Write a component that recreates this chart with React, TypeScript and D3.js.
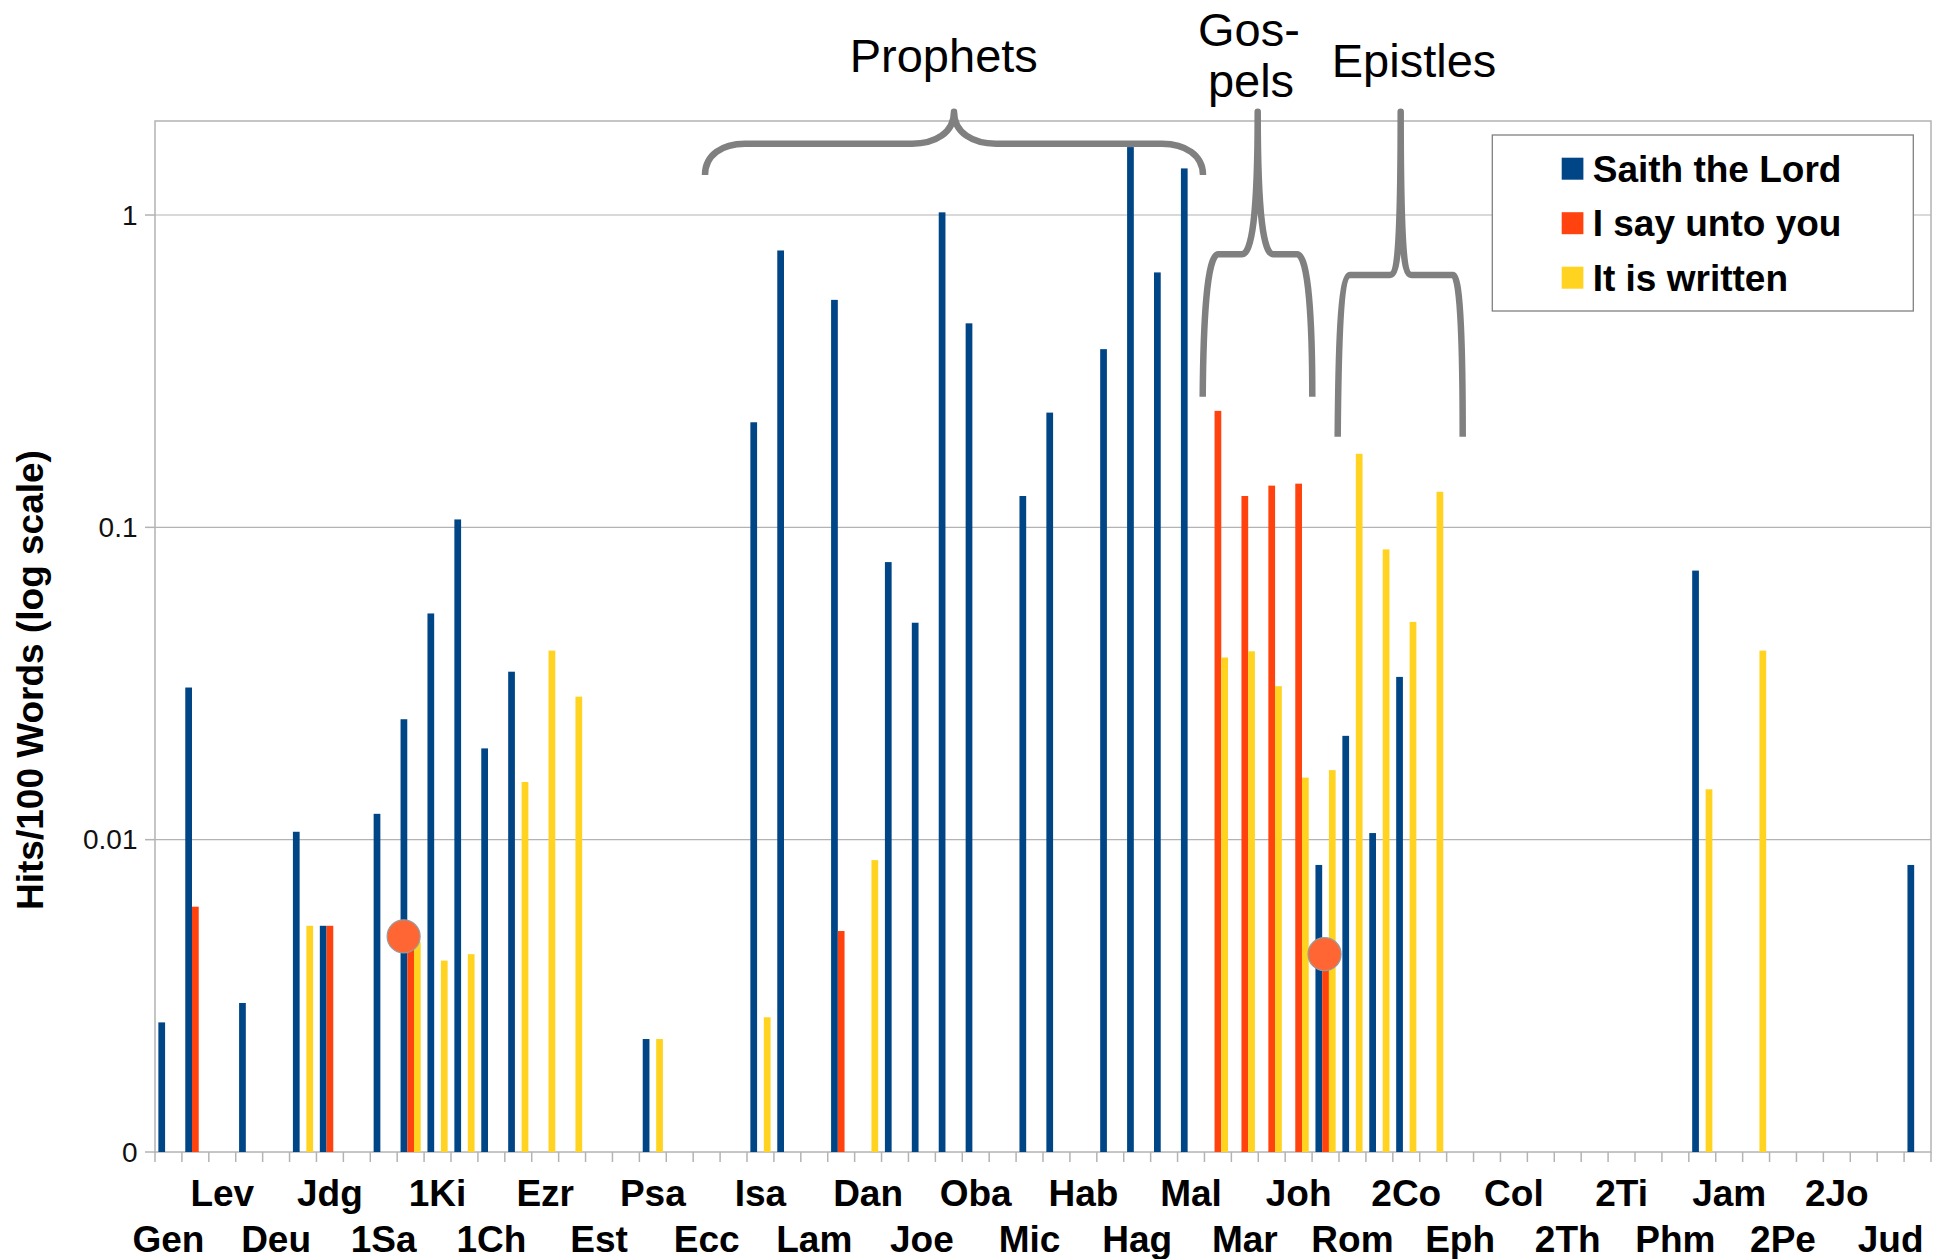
import React, { useRef, useEffect } from "react";
import * as d3 from "d3";

// books of the bible, in order (only every other one gets a label)
const books = [
  "Gen", "Exo", "Lev", "Num", "Deu", "Jos", "Jdg", "Rut", "1Sa", "2Sa", "1Ki",
  "2Ki", "1Ch", "2Ch", "Ezr", "Neh", "Est", "Job", "Psa", "Pro", "Ecc", "Son",
  "Isa", "Jer", "Lam", "Eze", "Dan", "Hos", "Joe", "Amo", "Oba", "Jon", "Mic",
  "Nah", "Hab", "Zep", "Hag", "Zec", "Mal", "Mat", "Mar", "Luk", "Joh", "Act",
  "Rom", "1Co", "2Co", "Gal", "Eph", "Phi", "Col", "1Th", "2Th", "1Ti", "2Ti",
  "Tit", "Phm", "Heb", "Jam", "1Pe", "2Pe", "1Jo", "2Jo", "3Jo", "Jud", "Rev",
];

const seriesNames = ["Saith the Lord", "I say unto you", "It is written"];
const seriesColors = ["#004586", "#ff420e", "#ffd320"];

// hits per 100 words; books with no hits are left out
const saithTheLord: [string, number][] = [
  ["Gen", 0.0026], ["Exo", 0.0307], ["Num", 0.003], ["Jos", 0.0106],
  ["Jdg", 0.0053], ["1Sa", 0.0121], ["2Sa", 0.0243], ["1Ki", 0.053],
  ["2Ki", 0.106], ["1Ch", 0.0196], ["2Ch", 0.0345], ["Psa", 0.0023],
  ["Isa", 0.217], ["Jer", 0.77], ["Eze", 0.535], ["Hos", 0.0774],
  ["Joe", 0.0495], ["Amo", 1.02], ["Oba", 0.45], ["Mic", 0.126],
  ["Nah", 0.233], ["Zep", 0.372], ["Hag", 1.65], ["Zec", 0.655],
  ["Mal", 1.41], ["Act", 0.0083], ["Rom", 0.0215], ["1Co", 0.0105],
  ["2Co", 0.0332], ["Heb", 0.0727], ["Rev", 0.0083],
];

const iSayUntoYou: [string, number][] = [
  ["Exo", 0.0061], ["Jdg", 0.0053], ["2Sa", 0.0049], ["Eze", 0.0051],
  ["Mat", 0.236], ["Mar", 0.126], ["Luk", 0.136], ["Joh", 0.138],
  ["Act", 0.0043],
];

const itIsWritten: [string, number][] = [
  ["Jos", 0.0053], ["2Sa", 0.0047], ["1Ki", 0.0041], ["2Ki", 0.0043],
  ["2Ch", 0.0153], ["Ezr", 0.0403], ["Neh", 0.0287], ["Psa", 0.0023],
  ["Isa", 0.0027], ["Dan", 0.0086], ["Mat", 0.0383], ["Mar", 0.0401],
  ["Luk", 0.031], ["Joh", 0.0158], ["Act", 0.0167], ["Rom", 0.172],
  ["1Co", 0.085], ["2Co", 0.0498], ["Gal", 0.13], ["Heb", 0.0145],
  ["1Pe", 0.0403],
];

const seriesData = [saithTheLord, iSayUntoYou, itIsWritten];

const yTicks = [1, 0.1, 0.01, 0.001];
const yTickLabels = ["1", "0.1", "0.01", "0"];

// the two highlighted "I say unto you" hits
const markers: [string, number][] = [["2Sa", 0.0049], ["Act", 0.0043]];
const markerNudge = [-7, -1];

const FONT = "'Liberation Sans', Arial, sans-serif";
const GRID = "#b3b3b3";
const BRACE = "#808080";

const left = 155, right = 1931, top = 121, bottom = 1152;

export default function App() {
  const ref = useRef<SVGSVGElement>(null);

  useEffect(() => {
    const svg = d3.select(ref.current);
    svg.selectAll("*").remove();

    const x = d3.scaleBand().domain(books).range([left, right]).padding(0);
    const x1 = d3.scaleBand().domain(seriesNames)
      .range([0, x.bandwidth()]).paddingInner(0).paddingOuter(0.5);
    const y = d3.scaleLog().domain([0.001, 2]).range([bottom, top]);

    svg.append("rect").attr("width", 1943).attr("height", 1259).attr("fill", "#fff");

    // grid + frame
    svg.append("g").selectAll("line")
      .data(yTicks.slice(0, -1))
      .join("line")
      .attr("x1", left).attr("x2", right)
      .attr("y1", d => y(d)).attr("y2", d => y(d))
      .attr("stroke", GRID).attr("stroke-width", 1.2);

    svg.append("rect")
      .attr("x", left).attr("y", top)
      .attr("width", right - left).attr("height", bottom - top)
      .attr("fill", "none").attr("stroke", GRID).attr("stroke-width", 1.5);

    // y ticks
    svg.append("g").selectAll("line")
      .data(yTicks)
      .join("line")
      .attr("x1", left - 10).attr("x2", left)
      .attr("y1", d => y(d)).attr("y2", d => y(d))
      .attr("stroke", GRID).attr("stroke-width", 1.5);

    svg.append("g").selectAll("text")
      .data(yTicks)
      .join("text")
      .attr("x", 137.5)
      .attr("y", d => y(d))
      .attr("dy", "0.35em")
      .attr("text-anchor", "end")
      .style("font", `28px ${FONT}`)
      .attr("fill", "#111")
      .text((d, i) => yTickLabels[i]);

    // x ticks at category boundaries
    const edges = books.map(b => x(b)!).concat([right]);
    svg.append("g").selectAll("line")
      .data(edges)
      .join("line")
      .attr("x1", d => d).attr("x2", d => d)
      .attr("y1", bottom).attr("y2", bottom + 10)
      .attr("stroke", GRID).attr("stroke-width", 1.5);

    svg.append("g").selectAll("text")
      .data(books.filter((_, i) => i % 2 === 0))
      .join("text")
      .attr("x", d => x(d)! + x.bandwidth() / 2)
      .attr("y", (d, i) => (i % 2 === 0 ? 1251.7 : 1205.7))
      .attr("text-anchor", "middle")
      .style("font", `bold 37px ${FONT}`)
      .attr("fill", "#000")
      .text(d => d);

    // bars
    seriesData.forEach((rows, si) => {
      svg.append("g").selectAll("rect")
        .data(rows)
        .join("rect")
        .attr("x", d => x(d[0])! + x1(seriesNames[si])!)
        .attr("y", d => y(d[1]))
        .attr("width", x1.bandwidth())
        .attr("height", d => bottom - y(d[1]))
        .attr("fill", seriesColors[si]);
    });

    // highlight circles
    svg.append("g").selectAll("circle")
      .data(markers)
      .join("circle")
      .attr("cx", (d, i) => x(d[0])! + x1(seriesNames[1])! + x1.bandwidth() / 2 + markerNudge[i])
      .attr("cy", d => y(d[1]))
      .attr("r", 16.5)
      .attr("fill", "#ff6633")
      .attr("stroke", "#9a9a9a")
      .attr("stroke-width", 1.2);

    // curly braces
    const braces = [
      "M705 175 C705 155 722 143.7 745 143.7 L912 143.7 C935 143.7 954 133 954 111.7 " +
        "C954 133 973 143.7 996 143.7 L1162 143.7 C1185 143.7 1203 155 1203 175",
      "M1202.7 396.7 C1203.3 323 1206.7 254.3 1218.3 254.3 L1241.7 254.3 " +
        "C1251.7 254.3 1257.7 216.7 1257.7 111.7 C1257.7 216.7 1263.7 254.3 1273.3 254.3 " +
        "L1297 254.3 C1308.7 254.3 1312.3 323 1312.3 396.7",
      "M1337.7 436.7 C1338.3 356.7 1340 275 1350 275 L1390 275 " +
        "C1398.3 275 1400.7 240 1400.7 111.7 C1400.7 240 1403 275 1411.3 275 " +
        "L1453 275 C1461 275 1462.7 356.7 1462.7 436.7",
    ];
    svg.append("g").selectAll("path")
      .data(braces)
      .join("path")
      .attr("d", d => d)
      .attr("fill", "none")
      .attr("stroke", BRACE)
      .attr("stroke-width", 6.5)
      .attr("stroke-linejoin", "round");

    const notes: [string, number, number][] = [
      ["Prophets", 943.8, 71.5], ["Gos-", 1249, 45.5],
      ["pels", 1251, 97], ["Epistles", 1414, 76.5],
    ];
    svg.append("g").selectAll("text")
      .data(notes)
      .join("text")
      .attr("x", d => d[1]).attr("y", d => d[2])
      .attr("text-anchor", "middle")
      .style("font", `47px ${FONT}`)
      .attr("fill", "#000")
      .text(d => d[0]);

    // y axis title
    svg.append("text")
      .attr("transform", "translate(42.7,680) rotate(-90)")
      .attr("text-anchor", "middle")
      .style("font", `bold 37px ${FONT}`)
      .attr("fill", "#000")
      .text("Hits/100 Words (log scale)");

    // legend
    const lg = svg.append("g");
    lg.append("rect")
      .attr("x", 1492.3).attr("y", 135)
      .attr("width", 421).attr("height", 176)
      .attr("fill", "#fff").attr("stroke", "#808080").attr("stroke-width", 1.3);
    const items = lg.selectAll("g")
      .data(seriesNames)
      .join("g")
      .attr("transform", (d, i) => `translate(1561.7,${157.7 + i * 54.5})`);
    items.append("rect")
      .attr("width", 21.7).attr("height", 22)
      .attr("fill", (d, i) => seriesColors[i]);
    items.append("text")
      .attr("x", 31).attr("y", 24)
      .style("font", `bold 37px ${FONT}`)
      .attr("fill", "#000")
      .text(d => d);
  }, []);

  return (
    <svg
      ref={ref}
      width={1943}
      height={1259}
      style={{ position: "absolute", left: 0, top: 0 }}
    />
  );
}
